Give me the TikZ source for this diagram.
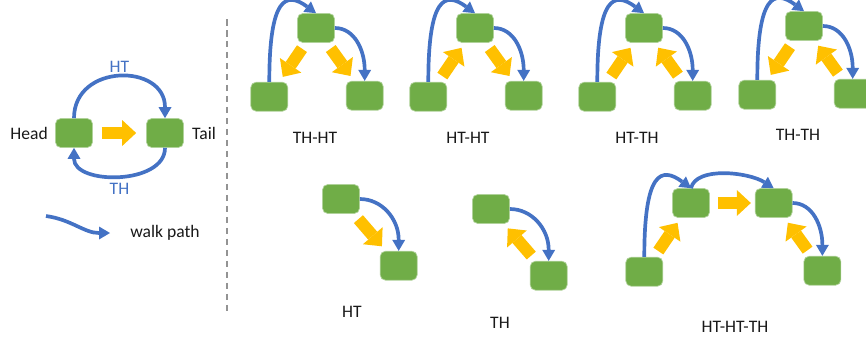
\documentclass[tikz,border=0pt]{standalone}
\usepackage{fontspec}
\setmainfont{Carlito}
\usetikzlibrary{positioning, arrows.meta, calc}

\definecolor{boxgreen}{HTML}{70AD47}
\definecolor{walkblue}{HTML}{4472C4}
\definecolor{flowgold}{HTML}{FFC000}

\begin{document}
\begin{tikzpicture}[
    x=0.02cm, y=0.02cm,
    % Node styles
    ebox/.style={
        rectangle,
        rounded corners=3pt,
        fill=boxgreen,
        draw=boxgreen!55!white,
        line width=0.4pt,
        minimum width=0.74cm,
        minimum height=0.58cm,
        inner sep=0pt
    },
    walk/.style={
        -{Triangle[length=0.22cm, width=0.26cm, line width=0pt]},
        line width=2.1pt,
        draw=walkblue
    },
    flow/.style={
        -{Triangle[length=0.28cm, width=0.52cm, line width=0pt]},
        line width=0.24cm,
        draw=flowgold,
        shorten <=0.14cm,
        shorten >=0.12cm
    },
    motiflbl/.style={
        font=\normalsize,
        text=black!90,
        inner sep=0pt
    },
    tag/.style={
        font=\normalsize,
        text=walkblue
    }
]

\useasboundingbox (0,0) rectangle (866,343);

% Legend: one edge pair
\node[ebox] (head) at (74,210) {};
\node[ebox] (tail) at (165,210) {};
\node[motiflbl, left=0.14cm of head] (headlbl) {Head};
\node[motiflbl, right=0.16cm of tail] (taillbl) {Tail};

\draw[flow, shorten <=0.18cm, shorten >=0.2cm] (head) -- (tail);
\draw[walk] (head.north) to[out=90, in=90, looseness=1.55]
    node[tag, above, inner sep=1.5pt] {HT} (tail.north);
\draw[walk] (tail.south) to[out=-90, in=-90, looseness=1.05]
    node[tag, below, inner sep=3pt] {TH} (head.south);

% Legend: walk path
\coordinate (w0) at (46,127);
\coordinate (w1) at (110,110);
\draw[walk] (w0) to[out=-8, in=180] (w1);
\node[motiflbl, right=0.4cm of w1] (walklbl) {walk path};

% Separator
\draw[gray!85, line width=0.8pt, dash pattern=on 0.13cm off 0.09cm] (227,324) -- (227,28);

% Motif 1: TH-HT
\node[ebox] (t1) at (316,315) {};
\node[ebox, below left=0.78cm and 0.18cm of t1] (l1) {};
\node[ebox, below right=0.76cm and 0.22cm of t1] (r1) {};
\draw[walk] (l1.north) .. controls +(0,85) and +(-30,22) .. (t1.north);
\draw[walk] (t1.east) .. controls +(20,0) and +(0,30) .. (r1.north);
\draw[flow] (t1) -- (l1);
\draw[flow] (t1) -- (r1);
\node[motiflbl] (lbl1) at (315,205) {TH-HT};

% Motif 2: HT-HT
\node[ebox] (t2) at (475,315) {};
\node[ebox, below left=0.78cm and 0.18cm of t2] (l2) {};
\node[ebox, below right=0.76cm and 0.22cm of t2] (r2) {};
\draw[walk] (l2.north) .. controls +(0,85) and +(-30,22) .. (t2.north);
\draw[walk] (t2.east) .. controls +(20,0) and +(0,30) .. (r2.north);
\draw[flow] (l2) -- (t2);
\draw[flow] (t2) -- (r2);
\node[motiflbl] (lbl2) at (468,205) {HT-HT};

% Motif 3: HT-TH
\node[ebox] (t3) at (644,315) {};
\node[ebox, below left=0.78cm and 0.18cm of t3] (l3) {};
\node[ebox, below right=0.76cm and 0.22cm of t3] (r3) {};
\draw[walk] (l3.north) .. controls +(0,85) and +(-30,22) .. (t3.north);
\draw[walk] (t3.east) .. controls +(20,0) and +(0,30) .. (r3.north);
\draw[flow] (l3) -- (t3);
\draw[flow] (r3) -- (t3);
\node[motiflbl] (lbl3) at (637,205) {HT-TH};

% Motif 4: TH-TH
\node[ebox] (t4) at (804,317) {};
\node[ebox, below left=0.78cm and 0.18cm of t4] (l4) {};
\node[ebox, below right=0.76cm and 0.22cm of t4] (r4) {};
\draw[walk] (l4.north) .. controls +(0,85) and +(-30,22) .. (t4.north);
\draw[walk] (t4.east) .. controls +(20,0) and +(0,30) .. (r4.north);
\draw[flow] (t4) -- (l4);
\draw[flow] (r4) -- (t4);
\node[motiflbl] (lbl4) at (798,208) {TH-TH};

% Single HT
\node[ebox] (a) at (341,144) {};
\node[ebox, below right=0.74cm and 0.4cm of a] (b) {};
\draw[walk] (a.east) .. controls +(22,0) and +(0,32) .. (b.north);
\draw[flow] (a) -- (b);
\node[motiflbl] (lbl5) at (352,31) {HT};

% Single TH
\node[ebox] (c) at (491,134) {};
\node[ebox, below right=0.74cm and 0.4cm of c] (d) {};
\draw[walk] (c.east) .. controls +(22,0) and +(0,32) .. (d.north);
\draw[flow] (d) -- (c);
\node[motiflbl] (lbl6) at (500,20) {TH};

% Chain HT-HT-TH
\node[ebox] (e2) at (691,140) {};
\node[ebox, below left=0.78cm and 0.18cm of e2] (e1) {};
\node[ebox, right=0.9cm of e2] (e3) {};
\node[ebox, below right=0.76cm and 0.22cm of e3] (e4) {};
\draw[walk] (e1.north) .. controls +(0,85) and +(-30,22) .. (e2.north);
\draw[walk] (e2.north) .. controls +(5,22) and +(-25,16) .. (e3.north);
\draw[walk] (e3.east) .. controls +(20,0) and +(0,30) .. (e4.north);
\draw[flow] (e1) -- (e2);
\draw[flow, shorten <=0.16cm, shorten >=0.08cm] (e2) -- (e3);
\draw[flow] (e4) -- (e3);
\node[motiflbl] (lbl7) at (735,16) {HT-HT-TH};

\end{tikzpicture}
\end{document}
